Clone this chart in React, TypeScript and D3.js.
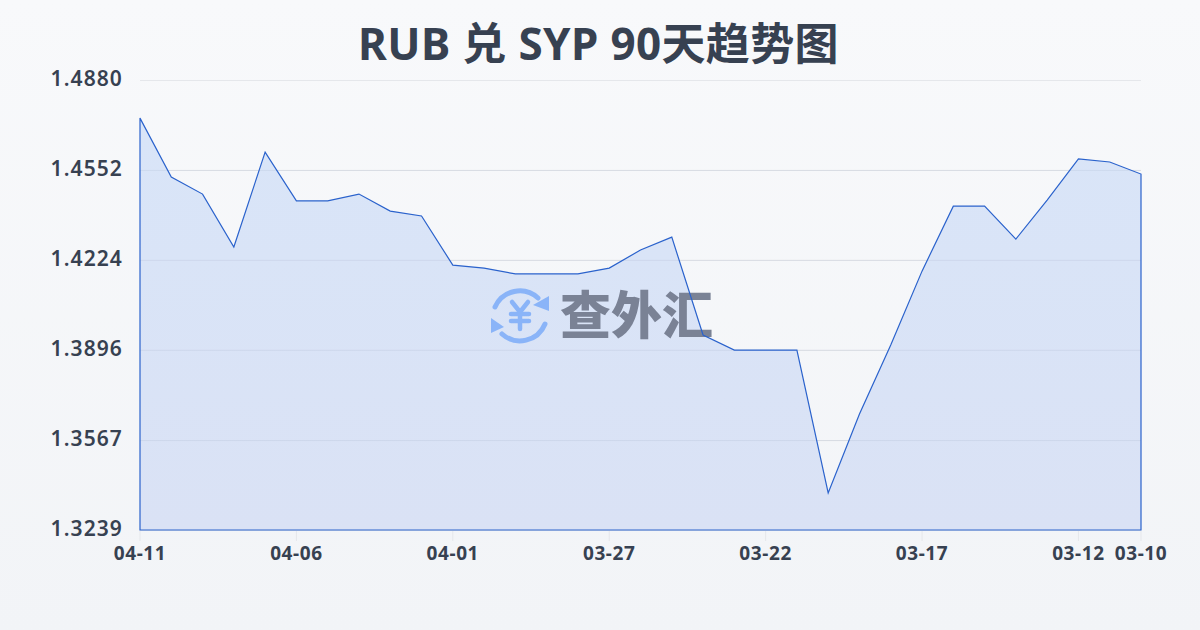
import React from "react";
import * as d3 from "d3";

const title = "RUB 兑 SYP 90天趋势图";
const dates = ["04-11","04-10","04-09","04-08","04-07","04-06","04-05","04-04","04-03","04-02","04-01","03-31","03-30","03-29","03-28","03-27","03-26","03-25","03-24","03-23","03-22","03-21","03-20","03-19","03-18","03-17","03-16","03-15","03-14","03-13","03-12","03-11","03-10"];
const rates = [1.4741,1.4526,1.4464,1.4271,1.4617,1.4439,1.4439,1.4464,1.4402,1.4384,1.4205,1.4194,1.4173,1.4173,1.4173,1.4194,1.4260,1.4307,1.3950,1.3895,1.3895,1.3895,1.3374,1.3662,1.3914,1.4183,1.4420,1.4420,1.4300,1.4442,1.4592,1.4581,1.4537];
const yTicks = [1.488,1.4552,1.4224,1.3896,1.3567,1.3239];
const xTickDates = ["04-11","04-06","04-01","03-27","03-22","03-17","03-12","03-10"];
const FONT = "'Noto Sans','Noto Sans CJK SC',sans-serif";

export default function App() {
  const x = d3.scalePoint<string>().domain(dates).range([140, 1141]);
  const y = d3.scaleLinear().domain([1.3239, 1.488]).range([530, 80]);
  const pts = dates.map((d, i) => ({ d, v: rates[i] }));
  const line = d3.line<{d:string;v:number}>().x(p => x(p.d)!).y(p => y(p.v));
  const area = d3.area<{d:string;v:number}>().x(p => x(p.d)!).y0(530).y1(p => y(p.v));
  React.useEffect(() => {
    document.body.style.margin = "0";
    document.body.style.background = "#f8fafc";
  }, []);
  return (
    <svg width={1200} height={630} viewBox="0 0 1200 630" style={{ display: "block", position: "absolute", left: 0, top: 0 }} fontFamily={FONT}>
      <defs>
        <linearGradient id="bg" x1="0" y1="0" x2="0" y2="1">
          <stop offset="0" stopColor="#f8f9fb" />
          <stop offset="1" stopColor="#f2f4f7" />
        </linearGradient>
        <linearGradient id="fill" x1="0" y1="0" x2="0" y2="1">
          <stop offset="0" stopColor="#d9e5f8" />
          <stop offset="1" stopColor="#dae2f5" />
        </linearGradient>
      </defs>
      <rect width={1200} height={630} fill="url(#bg)" />
      <text x={598.5} y={60} textAnchor="middle" fontSize={44} fontWeight={700} letterSpacing={0.35} fill="#374151">{title}</text>
      {yTicks.map(t => (
        <g key={t}>
          <line x1={140} x2={1141} y1={y(t) + 0.5} y2={y(t) + 0.5} stroke="#e5e7eb" strokeWidth={1} />
          <text x={123} y={y(t) + 6} textAnchor="end" fontSize={21} fontWeight={600} letterSpacing={1.1} fill="#374151">{t.toFixed(4)}</text>
        </g>
      ))}
      {xTickDates.map(d => (
        <g key={d}>
          <line x1={x(d)!} x2={x(d)!} y1={531} y2={541} stroke="#e5e7eb" strokeWidth={1} />
          <text x={x(d)!} y={560} textAnchor="middle" fontSize={19} fontWeight={700} letterSpacing={0.6} fill="#374151">{d}</text>
        </g>
      ))}
      <path d={area(pts)!} fill="url(#fill)" />
      {yTicks.slice(1, 5).map(t => (
        <line key={t} x1={140} x2={1141} y1={y(t) + 0.5} y2={y(t) + 0.5} stroke="#94a3b8" strokeOpacity={0.16} strokeWidth={1} />
      ))}
      <g>
        <g fill="none" stroke="#8ab4f8" strokeWidth={5} strokeLinecap="round">
          <path d="M495 307 A27 27 0 0 1 538 298" />
          <path d="M545 324 A27 27 0 0 1 502 334" />
        </g>
        <path d="M549 296 L549 311 L533 305 Z" fill="#8ab4f8" />
        <path d="M491 318 L504 327 L491 333 Z" fill="#8ab4f8" />
        <g fill="none" stroke="#8ab4f8" strokeWidth={4.5} strokeLinecap="round" strokeLinejoin="round">
          <path d="M512 302 L520 312 L528 302" />
          <path d="M511 314 L529 314" />
          <path d="M511 321 L529 321" />
          <path d="M520 312 L520 329" />
        </g>
        <text x={560} y={334} fontSize={51} fontWeight={900} fill="#7a8295" fontFamily="'Noto Sans CJK SC',sans-serif">查外汇</text>
      </g>
      <path d={area(pts)!} fill="none" stroke="#2a62cc" strokeWidth={1.2} />
    </svg>
  );
}
